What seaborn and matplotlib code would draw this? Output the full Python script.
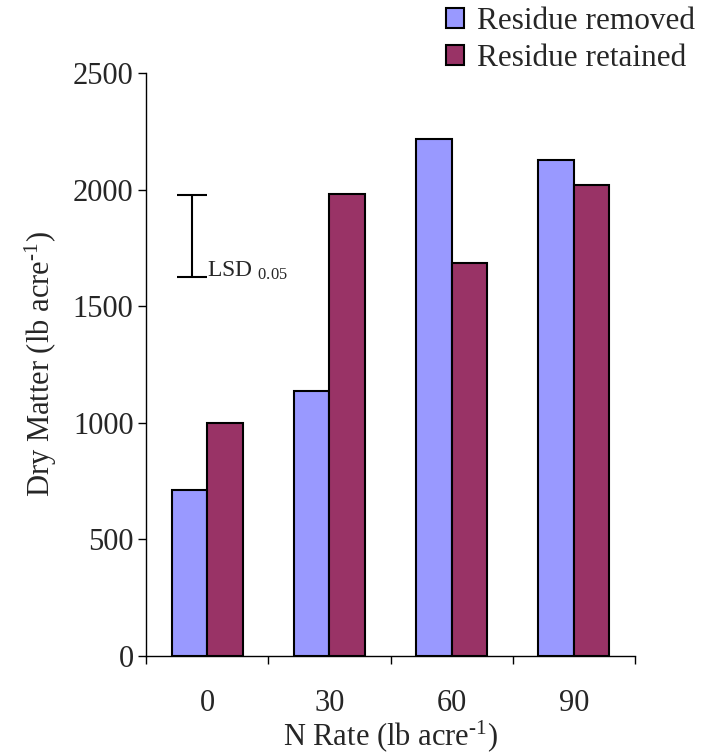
import numpy as np
import pandas as pd
import matplotlib
matplotlib.use('Agg')
import matplotlib.pyplot as plt
import seaborn as sns

n_rates = ['0', '30', '60', '90']
residue_removed = [710, 1135, 2215, 2125]
residue_retained = [1000, 1980, 1685, 2020]
series_names = ['Residue removed', 'Residue retained']
lsd_value = 350
lsd_base = 1625

df = pd.DataFrame({
    'N Rate': n_rates * 2,
    'Dry Matter': residue_removed + residue_retained,
    'Residue': [series_names[0]] * 4 + [series_names[1]] * 4,
})

sns.set_style('white')
plt.rcParams['font.family'] = ['Liberation Serif', 'DejaVu Serif']
plt.rcParams['mathtext.fontset'] = 'custom'
plt.rcParams['mathtext.rm'] = 'Liberation Serif'
plt.rcParams['mathtext.it'] = 'Liberation Serif:italic'

fig = plt.figure(figsize=(7.01, 7.55), dpi=100)
ax = fig.add_axes([0.2083, 0.1311, 0.6976, 0.7722])

sns.barplot(data=df, x='N Rate', y='Dry Matter', hue='Residue',
            palette=['#9999FF', '#993366'], width=0.58, dodge=True,
            edgecolor='black', linewidth=1.5, saturation=1, ax=ax)

ax.set_xlim(-0.5, 3.5)
ax.set_ylim(0, 2500)
ax.set_yticks(np.arange(0, 2501, 500))
ax.tick_params(axis='y', direction='out', length=6, width=1, pad=3,
               labelsize=22, left=True, color='black')
ax.tick_params(axis='x', which='major', length=0, pad=24, labelsize=22)
ax.set_xticks(np.arange(-0.5, 4, 1), minor=True)
ax.tick_params(axis='x', which='minor', direction='out', length=6, width=1,
               bottom=True, color='black')

for side in ['top', 'right']:
    ax.spines[side].set_visible(False)
for side in ['left', 'bottom']:
    ax.spines[side].set_color('black')
    ax.spines[side].set_linewidth(1)

ax.set_xlabel('N Rate (lb acre$^{\\text{-1}}$)', fontsize=22, labelpad=0)
ax.set_ylabel('Dry Matter (lb acre$^{\\text{-1}}$)', fontsize=22, labelpad=10)

# LSD bar
ax.errorbar([-0.124], [lsd_base + lsd_value / 2], yerr=[lsd_value / 2],
            fmt='none', ecolor='black', elinewidth=1.5, capsize=11,
            capthick=1.5)
ax.text(0.0, lsd_base, 'LSD $_{0.05}$', fontsize=17, ha='left',
        va='baseline')

handles, labels = ax.get_legend_handles_labels()
ax.get_legend().remove()
fig.legend(handles, labels, loc='upper right', bbox_to_anchor=(1.018, 1.015),
           frameon=False, fontsize=22.5, handlelength=0.6, handleheight=0.6,
           handletextpad=0.4, labelspacing=0.25, borderaxespad=0.2)

fig.savefig('out.png', dpi=100)
